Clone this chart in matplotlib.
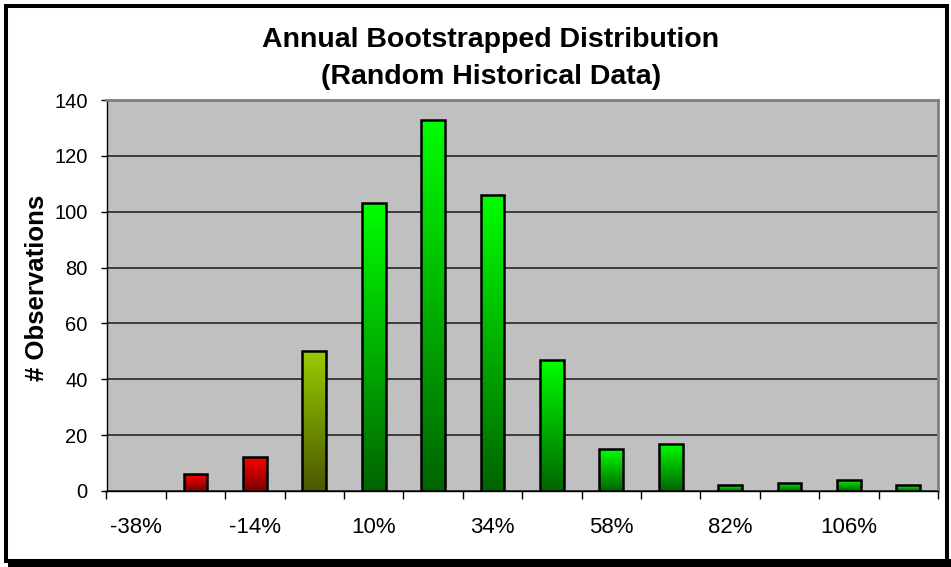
import matplotlib.pyplot as plt
import numpy as np
from matplotlib.colors import LinearSegmentedColormap
from matplotlib.patches import Rectangle

# Data
bins = ['-38%', '-26%', '-14%', '-2%', '10%', '22%', '34%', '46%',
        '58%', '70%', '82%', '94%', '106%', '118%']
counts = [0, 6, 12, 50, 103, 133, 106, 47, 15, 17, 2, 3, 4, 2]
# top / bottom colour of each bar's gradient
top_colors = ['#FF0000', '#FF0000', '#FF0000', '#99CC00'] + ['#00FF00'] * 10
bottom_colors = ['#7A0000', '#7A0000', '#7A0000', '#4A5800'] + ['#006400'] * 10

W, H = 951, 567
fig = plt.figure(figsize=(W / 100, H / 100), dpi=100)
fig.patch.set_facecolor('white')

# outer chart border with shadow at the bottom
fig.patches.append(Rectangle((8 / W, 0), 943 / W, 8 / H, transform=fig.transFigure,
                             facecolor='black', edgecolor='none', zorder=0))
fig.patches.append(Rectangle((6 / W, 6 / H), 941 / W, 555 / H, transform=fig.transFigure,
                             facecolor='none', edgecolor='black', linewidth=2.9, zorder=1))

ax = fig.add_axes([106.5 / W, 1 - 491 / H, (938 - 106.5) / W, (491 - 100) / H])
ax.set_facecolor('#C0C0C0')

x = np.arange(len(bins))
bars = ax.bar(x, counts, width=0.4, facecolor='none', edgecolor='black',
              linewidth=1.8, zorder=4)

# vertical gradient fill for each bar
grad = np.linspace(0, 1, 256).reshape(-1, 1)
for b, c, top, bot in zip(bars, counts, top_colors, bottom_colors):
    if c == 0:
        b.set_visible(False)
        continue
    cmap = LinearSegmentedColormap.from_list('g', [bot, top])
    bx, bw = b.get_x(), b.get_width()
    im = ax.imshow(grad, cmap=cmap, extent=[bx, bx + bw, 0, c], origin='lower',
                   aspect='auto', zorder=3, interpolation='bilinear')
    im.set_clip_path(b)

ax.set_xlim(-0.5, len(bins) - 0.5)
ax.set_ylim(0, 140)
ax.set_yticks(np.arange(0, 141, 20))
ax.yaxis.grid(True, color='#1a1a1a', linewidth=1.1, zorder=1)
ax.set_axisbelow(True)

# ticks on category boundaries, labels on every other category
ax.set_xticks(np.arange(-0.5, len(bins), 1))
ax.set_xticklabels([])
ax.set_xticks(x[::2], minor=True)
ax.set_xticklabels(bins[::2], minor=True)
ax.tick_params(axis='x', which='major', direction='out', length=5.5, width=1, color='black')
ax.tick_params(axis='x', which='minor', length=0, pad=19, labelsize=16)
ax.tick_params(axis='y', direction='out', length=4.5, width=1, pad=9, labelsize=14.5)

for s in ['top', 'right']:
    ax.spines[s].set_color('#808080')
    ax.spines[s].set_linewidth(2)
for s in ['left', 'bottom']:
    ax.spines[s].set_color('black')
    ax.spines[s].set_linewidth(1)

for lab in ax.get_xticklabels(minor=True) + ax.get_yticklabels():
    lab.set_fontfamily('Liberation Sans')

fig.text(491 / W, 1 - 40 / H, 'Annual Bootstrapped Distribution', ha='center', va='center',
         fontsize=20.5, fontweight='bold', family='Liberation Sans')
fig.text(491 / W, 1 - 77 / H, '(Random Historical Data)', ha='center', va='center',
         fontsize=20.5, fontweight='bold', family='Liberation Sans')
fig.text(37 / W, 1 - 288 / H, '# Observations', ha='center', va='center', rotation=90,
         fontsize=18.5, fontweight='bold', family='Liberation Sans')

fig.savefig('out.png', dpi=100)
